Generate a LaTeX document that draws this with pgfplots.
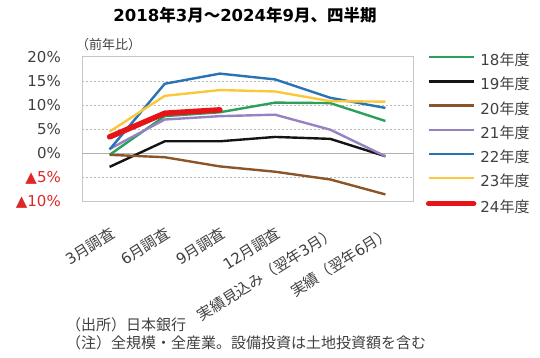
\documentclass[border=0pt]{standalone}
\usepackage{fontspec}
\setmainfont{DejaVu Sans}
\newfontfamily\jp{Noto Sans CJK JP}
\usepackage{pgfplots}
\pgfplotsset{compat=1.18}
\definecolor{cgreen}{RGB}{44,160,90}
\definecolor{cblack}{RGB}{20,20,20}
\definecolor{cbrown}{RGB}{140,85,40}
\definecolor{cpurple}{RGB}{150,130,195}
\definecolor{cblue}{RGB}{40,115,180}
\definecolor{cyellow}{RGB}{250,200,60}
\definecolor{cred}{RGB}{230,20,25}
\definecolor{negred}{RGB}{220,40,40}
\definecolor{txt}{RGB}{64,64,64}
\begin{document}
\begin{tikzpicture}[x=1pt,y=1pt]
\useasboundingbox (0,0) rectangle (540,358);
\node[font=\fontsize{16.5}{19}\selectfont\bfseries, text=black] at (245,343) {2018{\jp 年}3{\jp 月～}2024{\jp 年}9{\jp 月、四半期}};
\node[anchor=west, font=\fontsize{13}{16}\selectfont\jp, text=txt, inner sep=0pt] at (76,313) {（前年比）};
\node[anchor=west, font=\fontsize{15}{18}\selectfont\jp, text=txt, inner sep=0pt] at (66,33) {（出所）日本銀行};
\node[anchor=west, font=\fontsize{15}{18}\selectfont\jp, text=txt, inner sep=0pt] at (66,15) {（注）全規模・全産業。設備投資は土地投資額を含む};
\begin{axis}[
  at={(82pt,156.3pt)}, anchor=south west,
  width=331pt, height=145pt, scale only axis,
  xmin=-0.5, xmax=5.5, ymin=-10, ymax=20,
  xtick={0,1,2,3,4,5},
  xticklabels={3{\jp 月調査},6{\jp 月調査},9{\jp 月調査},12{\jp 月調査},{\jp 実績見込み（翌年}3{\jp 月）},{\jp 実績（翌年}6{\jp 月）}},
  ytick={-10,-5,0,5,10,15,20},
  yticklabels={\textcolor{negred}{▲10\%},\textcolor{negred}{▲5\%},0\%,5\%,10\%,15\%,20\%},
  major tick length=0pt,
  tick label style={font=\fontsize{15}{18}\selectfont, text=txt},
  yticklabel style={inner sep=0pt, xshift=-21pt},
  xticklabel style={rotate=32, anchor=north east, inner sep=0pt},
  xticklabel shift=24pt,
  axis line style={gray!45},
  ymajorgrids, major grid style={gray!55, dash pattern=on 2pt off 2pt, line width=0.6pt},
  extra y ticks={0}, extra y tick labels={},
  extra y tick style={grid=major, major grid style={gray!60, solid, line width=0.8pt}},
  legend style={at={(1.039,1.007)}, anchor=north west, draw=none, fill=none,
    font=\fontsize{15}{18}\selectfont, text=txt, inner sep=0pt, outer sep=0pt,
    row sep=11.2pt, column sep=4pt,
    nodes={inner sep=0pt, text height=10pt, text depth=3pt}},
  legend cell align=left,
  legend image code/.code={\draw[#1] (0pt,5pt) -- (45pt,5pt);},
  every axis plot/.append style={line width=2.4pt, line join=round},
]
\addplot[cgreen] coordinates {(0,-0.3) (1,7.7) (2,8.5) (3,10.5) (4,10.4) (5,6.7)};
\addlegendentry{18{\jp 年度}}
\addplot[cblack] coordinates {(0,-2.8) (1,2.5) (2,2.5) (3,3.4) (4,3.0) (5,-0.6)};
\addlegendentry{19{\jp 年度}}
\addplot[cbrown] coordinates {(0,-0.3) (1,-0.8) (2,-2.7) (3,-3.8) (4,-5.4) (5,-8.5)};
\addlegendentry{20{\jp 年度}}
\addplot[cpurple] coordinates {(0,0.9) (1,7.0) (2,7.7) (3,8.0) (4,4.9) (5,-0.6)};
\addlegendentry{21{\jp 年度}}
\addplot[cblue] coordinates {(0,0.8) (1,14.4) (2,16.5) (3,15.3) (4,11.5) (5,9.4)};
\addlegendentry{22{\jp 年度}}
\addplot[cyellow] coordinates {(0,4.5) (1,11.9) (2,13.1) (3,12.8) (4,10.8) (5,10.7)};
\addlegendentry{23{\jp 年度}}
\addplot[cred, line width=5.5pt, line cap=round] coordinates {(0,3.4) (1,8.3) (2,9.0)};
\addlegendentry{24{\jp 年度}}
\end{axis}
\end{tikzpicture}
\end{document}
